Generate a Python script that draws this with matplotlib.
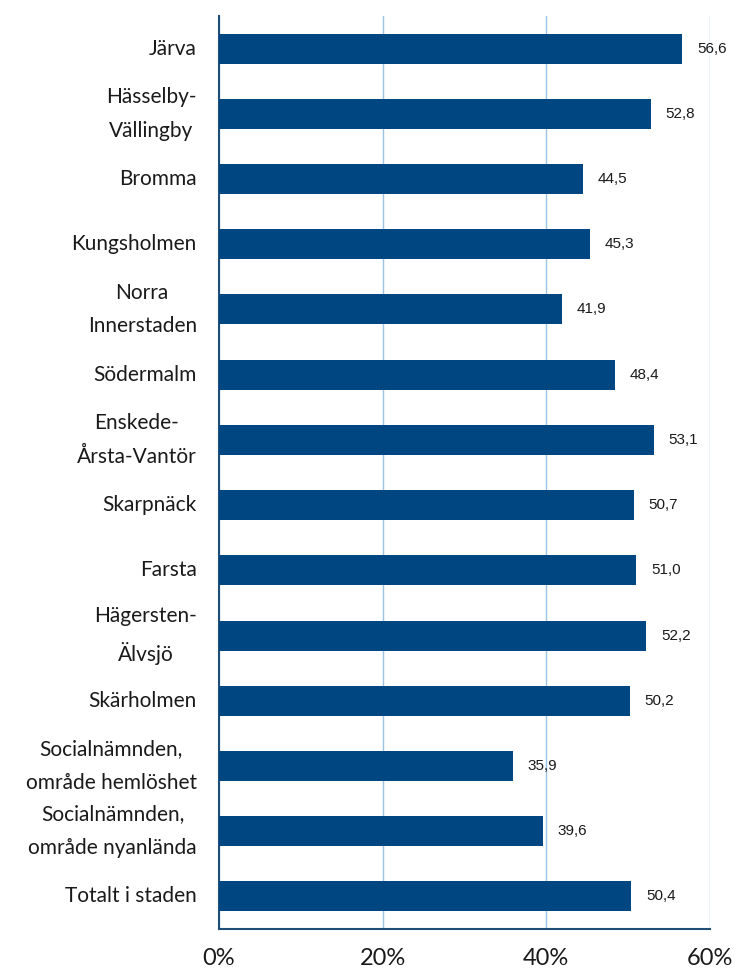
import matplotlib
matplotlib.use("Agg")
import matplotlib.pyplot as plt
from matplotlib.ticker import FuncFormatter

categories = [
    "Järva",
    "Hässelby-\nVällingby",
    "Bromma",
    "Kungsholmen",
    "Norra\nInnerstaden",
    "Södermalm",
    "Enskede-\nÅrsta-Vantör",
    "Skarpnäck",
    "Farsta",
    "Hägersten-\nÄlvsjö",
    "Skärholmen",
    "Socialnämnden,\nområde hemlöshet",
    "Socialnämnden,\nområde nyanlända",
    "Totalt i staden",
]
values = [56.6, 52.8, 44.5, 45.3, 41.9, 48.4, 53.1, 50.7, 51.0, 52.2, 50.2, 35.9, 39.6, 50.4]
xticks = [0, 20, 40, 60]

bar_color = "#004781"
grid_color = "#9DC3E6"
spine_color = "#1F4E79"

fig = plt.figure(figsize=(7.36, 9.72), dpi=100)
ax = fig.add_axes([219 / 736, 1 - 929 / 972, (710 - 219) / 736, (929 - 16) / 972])

y = list(range(len(categories)))
ax.barh(y, values, height=0.46, color=bar_color, zorder=3)

# value labels, comma as decimal separator
for yi, v in zip(y, values):
    ax.text(v + 1.8, yi, f"{v:.1f}".replace(".", ","), va="center", ha="left",
            fontsize=11, family="Liberation Sans", color="#1a1a1a", zorder=4)

ax.set_ylim(len(categories) - 0.5, -0.5)
ax.set_xlim(0, 60)
ax.set_yticks(y)
ax.set_yticklabels(categories, fontsize=15, family="Lato", color="#1a1a1a",
                   ha="right", va="center", multialignment="center", linespacing=1.85)
ax.tick_params(axis="y", length=0, pad=16)
ax.set_xticks(xticks)
ax.xaxis.set_major_formatter(FuncFormatter(lambda x, p: f"{int(x)}%"))
ax.tick_params(axis="x", length=0, pad=14, labelsize=17)
for lbl in ax.get_xticklabels():
    lbl.set_family("Lato")
    lbl.set_color("#1a1a1a")

ax.grid(axis="x", color=grid_color, linewidth=1.0, zorder=0)
ax.set_axisbelow(True)
for s in ["top", "right"]:
    ax.spines[s].set_visible(False)
ax.spines["left"].set_color(spine_color)
ax.spines["left"].set_linewidth(1.5)
ax.spines["bottom"].set_color(spine_color)
ax.spines["bottom"].set_linewidth(1.5)

fig.savefig("out.png", dpi=100)
